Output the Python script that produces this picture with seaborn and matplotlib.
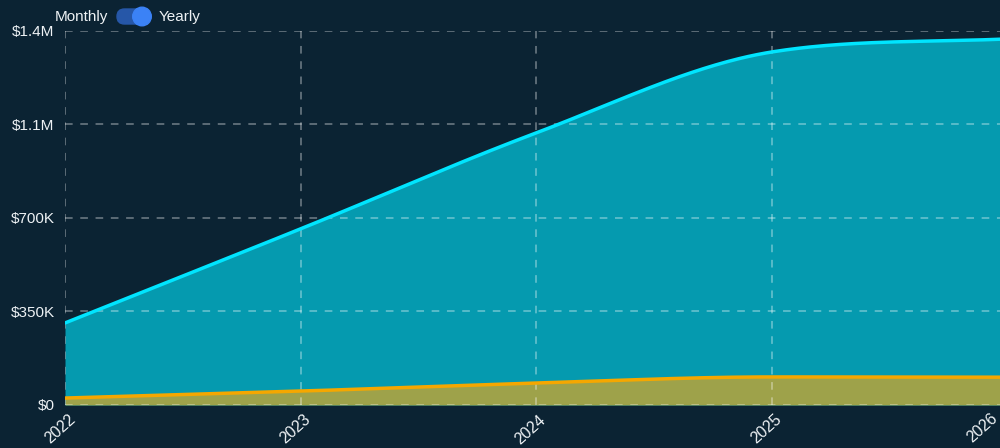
import numpy as np
import pandas as pd
import matplotlib
matplotlib.use("Agg")
import matplotlib.pyplot as plt
import matplotlib.transforms as mtransforms
import seaborn as sns
from matplotlib.patches import FancyBboxPatch, Circle

# ---- data ----
years = [2022, 2023, 2024, 2025, 2026]
year_labels = ["2022", "2023", "2024", "2025", "2026"]
upper_series = [307000, 659000, 1018000, 1321000, 1370000]
lower_series = [26000, 52000, 82000, 105000, 104000]
y_ticks = [0, 350000, 700000, 1050000, 1400000]
y_tick_labels = ["$0", "$350K", "$700K", "$1.1M", "$1.4M"]

BG = "#0b2333"
CYAN = "#00e5ff"
CYAN_FILL = "#059aaf"
ORANGE = "#f5a700"
OLIVE = "#9ea24a"
TXT = "#eef2f5"


def monotone_curve(x, y, n=80):
    # monotone cubic (Fritsch-Carlson) like a tensioned chart line
    x = np.asarray(x, float)
    y = np.asarray(y, float)
    d = np.diff(y) / np.diff(x)
    m = np.zeros_like(y)
    m[0], m[-1] = d[0], d[-1]
    for k in range(1, len(y) - 1):
        m[k] = 0 if d[k - 1] * d[k] <= 0 else (d[k - 1] + d[k]) / 2
    for k in range(len(d)):
        if d[k] == 0:
            m[k] = m[k + 1] = 0
            continue
        a, b = m[k] / d[k], m[k + 1] / d[k]
        s = a * a + b * b
        if s > 9:
            t = 3 / np.sqrt(s)
            m[k], m[k + 1] = t * a * d[k], t * b * d[k]
    xs, ys = [], []
    for k in range(len(d)):
        h = x[k + 1] - x[k]
        t = np.linspace(0, 1, n, endpoint=(k == len(d) - 1))
        h00 = 2 * t**3 - 3 * t**2 + 1
        h10 = t**3 - 2 * t**2 + t
        h01 = -2 * t**3 + 3 * t**2
        h11 = t**3 - t**2
        xs.append(x[k] + t * h)
        ys.append(h00 * y[k] + h10 * h * m[k] + h01 * y[k + 1] + h11 * h * m[k + 1])
    return np.concatenate(xs), np.concatenate(ys)


ux, uy = monotone_curve(years, upper_series)
lx, ly = monotone_curve(years, lower_series)
df = pd.concat([
    pd.DataFrame({"year": ux, "value": uy, "series": "upper"}),
    pd.DataFrame({"year": lx, "value": ly, "series": "lower"}),
])

sns.set_theme(style="dark")
plt.rcParams["font.family"] = ["Liberation Sans", "DejaVu Sans"]

fig = plt.figure(figsize=(10, 4.48), dpi=100, facecolor=BG)
ax = fig.add_axes([0.065, 0.096, 0.942, 0.835])
ax.set_facecolor(BG)

ax.fill_between(ux, 0, uy, color=CYAN_FILL, lw=0, zorder=1)
ax.fill_between(lx, 0, ly, color=OLIVE, lw=0, zorder=2)
sns.lineplot(data=df, x="year", y="value", hue="series",
             palette={"upper": CYAN, "lower": ORANGE},
             linewidth=2.5, legend=False, ax=ax, zorder=4, sort=False,
             estimator=None)

ax.set_xlim(2022, 2026)
ax.set_ylim(0, 1400000)
ax.set_xticks(years)
ax.set_xticklabels(year_labels, rotation=42, ha="right",
                   rotation_mode="anchor", va="center")
ax.set_yticks(y_ticks)
ax.set_yticklabels(y_tick_labels)
ax.set_xlabel("")
ax.set_ylabel("")

ax.grid(True, color="white", alpha=0.42, linestyle=(0, (5, 5)),
        linewidth=1.1, zorder=3)
ax.set_axisbelow(False)
for sp in ax.spines.values():
    sp.set_visible(False)
ax.tick_params(axis="both", colors="#7d8891", labelcolor=TXT,
               labelsize=11, length=6, width=1.1)
ax.tick_params(axis="x", labelsize=11.5, pad=3)
ax.tick_params(axis="y", pad=1.5)

# nudge the rotated year labels like the original (last one pulled inside)
labels = ax.get_xticklabels()
for i, lab in enumerate(labels):
    dx, dy = (8, 0) if i < len(labels) - 1 else (-12, 1)
    shift = mtransforms.ScaledTranslation(dx / 100, dy / 100, fig.dpi_scale_trans)
    lab.set_transform(lab.get_transform() + shift)

# Monthly / Yearly toggle
fig.text(0.055, 0.962, "Monthly", color=TXT, fontsize=11, va="center")
fig.text(0.159, 0.962, "Yearly", color=TXT, fontsize=11, va="center")
pill = FancyBboxPatch((117, 448 - 24), 32, 15,
                      boxstyle="round,pad=0,rounding_size=7.5",
                      transform=None, color="#2657a8", zorder=5)
fig.patches.append(pill)
knob = Circle((142, 448 - 16.5), 9.3, transform=None,
              color="#3b82f6", zorder=6)
fig.patches.append(knob)

fig.savefig("out.png", dpi=100, facecolor=BG)
